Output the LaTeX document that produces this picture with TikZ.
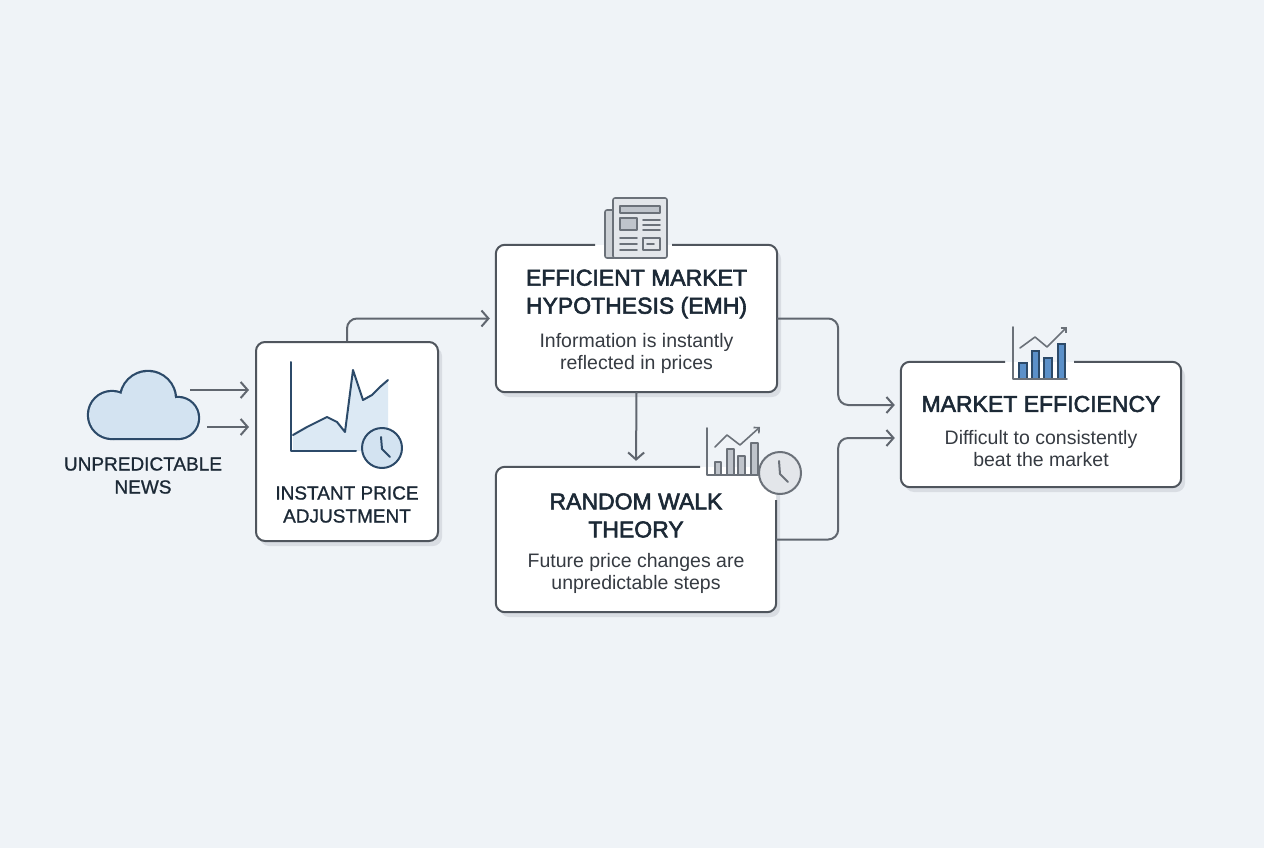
\documentclass[tikz,border=0pt]{standalone}
\usepackage{fontspec}
\setmainfont{Liberation Sans}
\newfontfamily\titlefont[FakeBold=2.5]{Liberation Sans}
\newfontfamily\lblfont[FakeBold=1]{Liberation Sans}
\usetikzlibrary{arrows.meta,shadows}

\definecolor{bgc}{HTML}{EFF3F7}
\definecolor{edgec}{HTML}{4F555D}
\definecolor{connc}{HTML}{60666F}
\definecolor{ttlc}{HTML}{1C2936}
\definecolor{bodyc}{HTML}{363B42}
\definecolor{navyc}{HTML}{2C4A69}
\definecolor{skyc}{HTML}{D3E3F1}
\definecolor{grayc}{HTML}{6B7179}
\definecolor{paperc}{HTML}{E3E6EA}
\definecolor{greyfill}{HTML}{BFC4CB}
\definecolor{barc}{HTML}{5B90C9}
\definecolor{shadowc}{HTML}{D9DDE3}

\tikzset{
  card/.style={fill=white, rounded corners=9pt, inner sep=0pt,
    drop shadow={shadow xshift=4pt, shadow yshift=-5pt, fill=shadowc, opacity=1}},
  edge/.style={draw=edgec, line width=2pt, rounded corners=9pt},
  conn/.style={draw=connc, line width=2pt, rounded corners=10pt,
    -{Straight Barb[length=7pt,width=16pt]}, shorten >=6pt},
  ttl/.style={text=ttlc, font=\titlefont\fontsize{23}{28}\selectfont, align=center},
  body/.style={text=bodyc, font=\fontsize{19.5}{22}\selectfont, align=center},
  lbl/.style={text=ttlc, font=\lblfont\fontsize{19}{23}\selectfont, align=center},
  navyicon/.style={draw=navyc, line width=2pt, line cap=round, line join=round},
  grayicon/.style={draw=grayc, line width=1.6pt, line cap=round, line join=round}
}

\begin{document}
\begin{tikzpicture}[x=1pt,y=-1pt]
  \fill[bgc] (0,0) rectangle (1264,848);

  % news cloud
  \foreach \cx/\cy/\r in {112/415/23,148/399/27,178/418/20}
    \fill[navyc] (\cx,\cy) circle (\r+2.2);
  \fill[navyc, rounded corners=2pt] (112,407.8) rectangle (178,440.2);
  \foreach \cx/\cy/\r in {112/415/23,148/399/27,178/418/20}
    \fill[skyc] (\cx,\cy) circle (\r);
  \fill[skyc] (112,410) rectangle (178,438);
  \node[lbl] (newslbl) at (143,475.5) {UNPREDICTABLE\\NEWS};

  % boxes
  \node[card, draw=edgec, line width=2pt, minimum width=182pt, minimum height=199pt] (adj) at (347,441.5) {};
  \node[card, minimum width=281pt, minimum height=147pt] (emh) at (636.5,318.5) {};
  \node[card, minimum width=280pt, minimum height=145pt] (rw) at (636,539.5) {};
  \node[card, minimum width=280pt, minimum height=125pt] (me) at (1041,424.5) {};

  \draw[edge] ([xshift=-41.5pt]emh.north) -- (emh.north west) -- (emh.south west)
    -- (emh.south east) -- (emh.north east) -- ([xshift=35.5pt]emh.north);
  \draw[edge] ([xshift=64pt]rw.north) -- (rw.north west) -- (rw.south west)
    -- (rw.south east) -- ([yshift=39.5pt]rw.east);
  \draw[edge] ([xshift=-36pt]me.north) -- (me.north west) -- (me.south west)
    -- (me.south east) -- (me.north east) -- ([xshift=33pt]me.north);

  % price chart
  \fill[skyc!80] (293,451) -- (293,435) -- (307,427) -- (315,423) -- (327,417) -- (337,422)
    -- (345,432) -- (353,370) -- (363,400) -- (372,395) -- (380,387) -- (388,380) -- (388,451) -- cycle;
  \draw[navyicon] (293,435) -- (307,427) -- (315,423) -- (327,417) -- (337,422)
    -- (345,432) -- (353,370) -- (363,400) -- (372,395) -- (380,387) -- (388,380);
  \draw[navyicon] (291,362) -- (291,451) -- (356,451);
  \draw[navyicon, fill=skyc] (382,448) circle (20);
  \draw[navyicon] (381,437) -- (382,449) -- (390,457);
  \node[lbl] (adjlbl) at (347,504.5) {INSTANT PRICE\\ADJUSTMENT};

  % newspaper
  \draw[grayicon, fill=greyfill!80, rounded corners=2pt] (605,210) rectangle (616,258);
  \draw[grayicon, fill=paperc, rounded corners=2pt] (613,198) rectangle (667,258);
  \draw[grayicon, fill=greyfill] (620,206) rectangle (660,213);
  \draw[grayicon, fill=greyfill] (620,218) rectangle (637,230);
  \foreach \y in {220,225,230}
    \draw[grayicon] (643,\y) -- (660,\y);
  \foreach \y in {238,244,250}
    \draw[grayicon] (620,\y) -- (637,\y);
  \draw[grayicon] (643,238) rectangle (660,250);
  \draw[grayicon] (647,244) -- (654,244);

  % walk chart and clock
  \foreach \xa/\xb/\top in {715/721/462,727/734/449,738/745/456,751/758/443}
    \draw[grayicon, fill=greyfill] (\xa,475) rectangle (\xb,\top);
  \draw[grayicon] (707,428) -- (707,475) -- (758,475);
  \draw[grayicon, -{Straight Barb[length=4pt,width=8pt]}] (715,447) -- (727,435) -- (740,445) -- (760,427);
  \draw[grayicon, line width=2pt, fill=paperc] (780,473) circle (21);
  \draw[grayicon, line width=2pt] (779,461) -- (780,474) -- (788,482);

  % efficiency chart
  \foreach \xa/\xb/\top in {1019/1027/363,1032/1039/351,1044/1052/358,1058/1065/344}
    \draw[draw=navyc, line width=1.4pt, fill=barc] (\xa,379) rectangle (\xb,\top);
  \draw[grayicon] (1013,327) -- (1013,379) -- (1067,379);
  \draw[grayicon, -{Straight Barb[length=4pt,width=8pt]}] (1020,348) -- (1035,337) -- (1047,347) -- (1067,327);

  % texts
  \node[ttl] (emhttl) at (636.5,294) {EFFICIENT MARKET\\HYPOTHESIS (EMH)};
  \node[body] (emhtxt) at (636.5,353) {Information is instantly\\reflected in prices};
  \node[ttl] (rwttl) at (636,515.5) {RANDOM WALK\\THEORY};
  \node[body] (rwtxt) at (636,573) {Future price changes are\\unpredictable steps};
  \node[ttl] (mettl) at (1041,404) {MARKET EFFICIENCY};
  \node[body] (metxt) at (1041,449) {Difficult to consistently\\beat the market};

  % connectors
  \coordinate (n1) at (190,390);
  \coordinate (n2) at (207,427);
  \draw[conn] (n1) -- (n1 -| adj.west);
  \draw[conn] (n2) -- (n2 -| adj.west);
  \draw[conn] (adj.north) |- (emh.west);
  \draw[conn] (emh.south) -- (rw.north);
  \draw[conn] (emh.east) -- ++(61,0) |- ([yshift=19.5pt]me.west);
  \draw[conn] (rw.east) -- ++(62,0) |- ([yshift=-13.5pt]me.west);
\end{tikzpicture}
\end{document}
